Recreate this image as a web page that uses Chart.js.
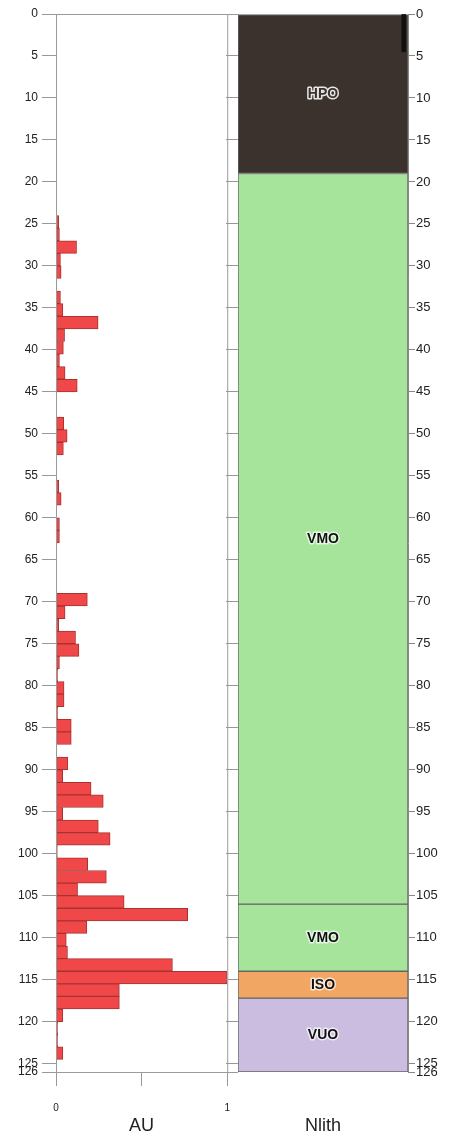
<!DOCTYPE html>
<html>
<head>
<meta charset="utf-8">
<script src="https://cdn.jsdelivr.net/npm/chart.js@4.4.1/dist/chart.umd.min.js"></script>
<style>
  body { margin: 0; background: #fff; }
  canvas { position: absolute; top: 0; }
  #au { left: 0; }
  #lith { left: 220px; }
</style>
</head>
<body>
<canvas id="au" width="246" height="1137"></canvas>
<canvas id="lith" width="246" height="1137"></canvas>
<script>
// depth tick labels (shared by both panels)
const depthTicks = [0, 5, 10, 15, 20, 25, 30, 35, 40, 45, 50, 55, 60, 65, 70, 75, 80, 85, 90, 95,
  100, 105, 110, 115, 120, 125, 126];
const auTicks = [0, 0.5, 1];

// AU histogram: top of each 1.5 deep bin and its value
const binWidth = 1.5;
const binTop = [0, 1.5, 3, 4.5, 6, 7.5, 9, 10.5, 12, 13.5, 15, 16.5, 18, 19.5, 21, 22.5, 24, 25.5,
  27, 28.5, 30, 31.5, 33, 34.5, 36, 37.5, 39, 40.5, 42, 43.5, 45, 46.5, 48, 49.5, 51, 52.5, 54,
  55.5, 57, 58.5, 60, 61.5, 63, 64.5, 66, 67.5, 69, 70.5, 72, 73.5, 75, 76.5, 78, 79.5, 81, 82.5,
  84, 85.5, 87, 88.5, 90, 91.5, 93, 94.5, 96, 97.5, 99, 100.5, 102, 103.5, 105, 106.5, 108, 109.5,
  111, 112.5, 114, 115.5, 117, 118.5, 120, 121.5, 123, 124.5];
const auValue = [0, 0, 0, 0, 0, 0, 0, 0, 0, 0, 0, 0, 0, 0.004, 0.004, 0, 0.016, 0.02,
  0.12, 0.026, 0.03, 0.005, 0.026, 0.04, 0.246, 0.05, 0.043, 0.02, 0.053, 0.124, 0, 0, 0.045, 0.065, 0.043, 0, 0,
  0.016, 0.03, 0, 0.02, 0.02, 0, 0, 0, 0, 0.183, 0.053, 0.016, 0.114, 0.134, 0.02, 0.01, 0.047, 0.047, 0.01,
  0.089, 0.089, 0.005, 0.069, 0.039, 0.205, 0.276, 0.039, 0.247, 0.316, 0.008, 0.185, 0.294, 0.126, 0.398, 0.769, 0.18, 0.06,
  0.067, 0.68, 1.0, 0.37, 0.37, 0.04, 0.01, 0.01, 0.04, 0.005];

// lithology column
const lithName = ['HPO', 'VMO', 'VMO', 'ISO', 'VUO'];
const lithTop = [0, 19, 106, 114, 117.2];
const lithBase = [19, 106, 114, 117.2, 126];
const lithColor = ['#3b322d', '#a6e39b', '#a6e39b', '#f2a663', '#cbbddf'];
const markerTop = 0;
const markerBase = 4.5;

Chart.defaults.font.family = '"Liberation Sans", Arial, sans-serif';
Chart.defaults.color = '#222';

const setTicks = list => scale => { scale.ticks = list.map(v => ({ value: v })); };

// frame round the AU plot
const framePlugin = {
  id: 'frame',
  afterDraw(chart) {
    const { ctx, chartArea: a } = chart;
    ctx.save();
    ctx.strokeStyle = '#9a9a9a';
    ctx.lineWidth = 1;
    ctx.strokeRect(a.left + 0.5, a.top + 0.5, a.right - a.left, a.bottom - a.top);
    ctx.restore();
  }
};

new Chart(document.getElementById('au'), {
  type: 'bar',
  data: {
    datasets: [{
      data: binTop.map((d, i) => ({ x: auValue[i], y: d + binWidth / 2 })),
      backgroundColor: '#f04848',
      borderColor: '#a83232',
      borderWidth: 1,
      borderSkipped: false,
      barThickness: 'flex',
      barPercentage: 1,
      categoryPercentage: 1
    }]
  },
  options: {
    indexAxis: 'y',
    responsive: false,
    animation: false,
    layout: { padding: { top: 14, right: 7 } },
    plugins: { legend: { display: false }, tooltip: { enabled: false } },
    scales: {
      y: {
        type: 'linear', reverse: true, min: 0, max: 126, offset: false,
        afterBuildTicks: setTicks(depthTicks),
        afterFit: s => { s.width = 56; },
        grid: { drawOnChartArea: false, tickLength: 14, color: '#999', offset: false },
        border: { color: '#999' },
        ticks: { autoSkip: false, padding: 4, font: { size: 12 } }
      },
      x: {
        type: 'linear', min: 0, max: 1,
        afterBuildTicks: setTicks(auTicks),
        afterFit: s => { s.height = 65; },
        grid: { drawOnChartArea: false, tickLength: 14, color: '#999' },
        border: { color: '#999' },
        ticks: { padding: 16, font: { size: 10 }, callback: v => (v === 0.5 ? '' : v) },
        title: { display: true, text: 'AU', font: { size: 18 }, padding: 0 }
      }
    }
  },
  plugins: [framePlugin]
});

// names written in the middle of each layer
const lithLabels = {
  id: 'lithLabels',
  afterDatasetsDraw(chart) {
    const { ctx, chartArea: a, scales } = chart;
    const x = (a.left + a.right) / 2;
    ctx.save();
    ctx.font = 'bold 14px "Liberation Sans", Arial, sans-serif';
    ctx.textAlign = 'center';
    ctx.textBaseline = 'middle';
    ctx.lineJoin = 'round';
    lithName.forEach((name, i) => {
      const y = scales.y.getPixelForValue((lithTop[i] + lithBase[i]) / 2);
      if (i === 0) {
        ctx.lineWidth = 3;
        ctx.strokeStyle = '#e6e6e6';
        ctx.strokeText(name, x, y);
        ctx.fillStyle = lithColor[0];
        ctx.fillText(name, x, y);
      } else {
        ctx.lineWidth = 3;
        ctx.strokeStyle = 'rgba(255,255,255,0.7)';
        ctx.strokeText(name, x, y);
        ctx.fillStyle = '#111';
        ctx.fillText(name, x, y);
      }
    });
    ctx.restore();
  }
};

const lithSets = lithName.map((name, i) => ({
  label: name,
  data: [{ x: 'Nlith', y: [lithTop[i], lithBase[i]] }],
  backgroundColor: lithColor[i],
  borderColor: '#666',
  borderWidth: 1,
  borderSkipped: false,
  grouped: false,
  barPercentage: 1,
  categoryPercentage: 1,
  xAxisID: 'x',
  yAxisID: 'y'
}));
lithSets.push({
  label: 'marker',
  data: [{ x: 0.975, y: [markerTop, markerBase] }],
  backgroundColor: '#111',
  barThickness: 4,
  grouped: false,
  order: -1,
  xAxisID: 'xm',
  yAxisID: 'y'
});

new Chart(document.getElementById('lith'), {
  type: 'bar',
  data: { labels: ['Nlith'], datasets: lithSets },
  options: {
    responsive: false,
    animation: false,
    layout: { padding: { top: 14 } },
    plugins: { legend: { display: false }, tooltip: { enabled: false } },
    scales: {
      x: {
        type: 'category',
        afterFit: s => { s.height = 65; },
        grid: { display: false },
        border: { display: false },
        ticks: { display: false },
        title: { display: true, text: 'Nlith', font: { size: 18 }, padding: 0 }
      },
      xm: { type: 'linear', min: 0, max: 1, offset: false, display: false },
      yl: {
        type: 'linear', position: 'left', reverse: true, min: 0, max: 126,
        afterBuildTicks: setTicks(depthTicks),
        afterFit: s => { s.width = 18; },
        grid: { drawOnChartArea: false, tickLength: 12, color: '#999' },
        border: { display: false },
        ticks: { display: false }
      },
      y: {
        type: 'linear', position: 'right', reverse: true, min: 0, max: 126,
        afterBuildTicks: setTicks(depthTicks),
        afterFit: s => { s.width = 58; },
        grid: { drawOnChartArea: false, tickLength: 7, color: '#888' },
        border: { color: '#888' },
        ticks: { autoSkip: false, padding: 1, font: { size: 13 } }
      }
    }
  },
  plugins: [lithLabels]
});
</script>
</body>
</html>
